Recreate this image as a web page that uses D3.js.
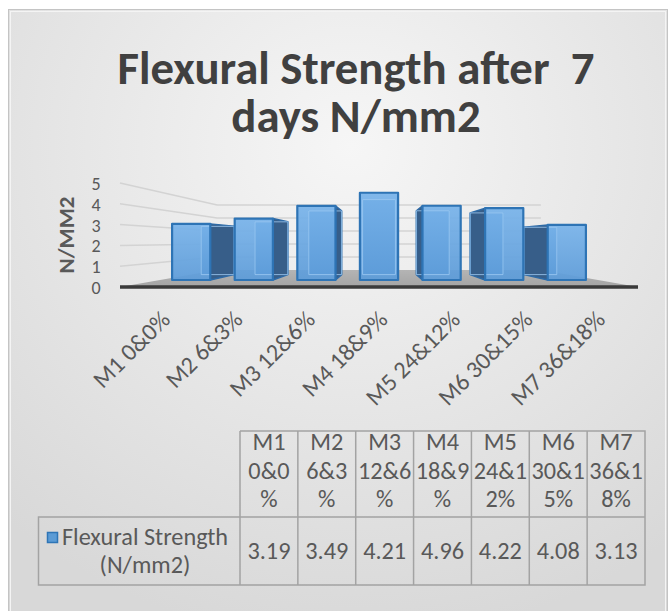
<!DOCTYPE html>
<html>
<head>
<meta charset="utf-8">
<script src="https://cdn.jsdelivr.net/npm/d3@7"></script>
<style>
  html, body { margin: 0; padding: 0; background: #fff; }
  svg { display: block; font-family: Carlito, Calibri, Lato, sans-serif; }
</style>
</head>
<body>
<div id="chart"></div>
<script>
const titleLines  = ["Flexural Strength after  7", "days N/mm2"];
const categories  = ["M1 0&0%", "M2 6&3%", "M3 12&6%", "M4 18&9%", "M5 24&12%", "M6 30&15%", "M7 36&18%"];
const headerLines = [["M1", "0&0", "%"], ["M2", "6&3", "%"], ["M3", "12&6", "%"], ["M4", "18&9", "%"],
                     ["M5", "24&1", "2%"], ["M6", "30&1", "5%"], ["M7", "36&1", "8%"]];
const values      = [3.19, 3.49, 4.21, 4.96, 4.22, 4.08, 3.13];
const seriesLines = ["Flexural Strength", "(N/mm2)"];
const yTicks      = [0, 1, 2, 3, 4, 5];
const yTitle      = "N/MM2";

const W = 671, H = 611;
const svg = d3.select("#chart").append("svg")
  .attr("width", W).attr("height", H)
  .attr("xmlns", "http://www.w3.org/2000/svg");

const defs = svg.append("defs");
const bg = defs.append("radialGradient").attr("id", "bg")
  .attr("cx", "52%").attr("cy", "22%").attr("r", "80%");
bg.append("stop").attr("offset", "0%").attr("stop-color", "#f6f6f6");
bg.append("stop").attr("offset", "100%").attr("stop-color", "#d8d8d8");
const front = defs.append("linearGradient").attr("id", "front")
  .attr("x1", 0).attr("y1", 0).attr("x2", 0).attr("y2", 1);
front.append("stop").attr("offset", "0%").attr("stop-color", "#78b3ea");
front.append("stop").attr("offset", "100%").attr("stop-color", "#5d9cd9");
const floorG = defs.append("linearGradient").attr("id", "floor")
  .attr("x1", 0).attr("y1", 0).attr("x2", 0).attr("y2", 1);
floorG.append("stop").attr("offset", "0%").attr("stop-color", "#b4b4b4");
floorG.append("stop").attr("offset", "100%").attr("stop-color", "#a4a4a4");

// chart area
svg.append("rect").attr("x", 8.5).attr("y", 9.5).attr("width", 659).attr("height", 620)
  .attr("fill", "url(#bg)").attr("stroke", "#c4c4c4");
svg.append("rect").attr("x", 10.5).attr("y", 11.5).attr("width", 655).attr("height", 620)
  .attr("fill", "none").attr("stroke", "#f4f4f4");

// font calibration (Calibri metrics emulated)
function fit(text, weight, target) {
  const t = svg.append("text").attr("font-size", 40).attr("font-weight", weight)
    .style("white-space", "pre").text(text);
  const w = t.node().getComputedTextLength();
  t.remove();
  return 40 * target / w;
}
const titleSize = fit(titleLines[0], "bold", 477);
const bodySize  = fit("3.19", "normal", 43);
const tickSize  = 18;
const axisTitleSize = fit(yTitle, "bold", 77);

// title
svg.append("g").selectAll("text").data(titleLines).join("text")
  .attr("x", 356).attr("y", (d, i) => 84 + i * 48)
  .attr("text-anchor", "middle")
  .attr("font-size", titleSize).attr("font-weight", "bold")
  .attr("fill", "#404040").style("white-space", "pre")
  .text(d => d);

// 3D projection
const x = d3.scaleBand().domain(categories).range([120, 638]);
const y = d3.scaleLinear().domain([0, 5]).range([287, 183]);
const vx = (120 + 638) / 2, vy = 241.6;
const kWall = 0.625, kBarF = 0.846, kBarB = 0.727, kLabel = 0.98;
const proj = (px, py, k) => [vx + (px - vx) * k, vy + (py - vy) * k];
const poly = pts => "M" + pts.map(p => p.join(",")).join("L") + "Z";

const plot = svg.append("g");
const x0 = x.range()[0], x1 = x.range()[1];

// floor
plot.append("path")
  .attr("d", poly([proj(x0, y(0), 1), proj(x1, y(0), 1), proj(x1, y(0), kWall), proj(x0, y(0), kWall)]))
  .attr("fill", "url(#floor)");

// gridlines on side and back wall
plot.append("g").selectAll("path").data(yTicks.filter(v => v > 0)).join("path")
  .attr("d", v => "M" + proj(x0, y(v), 1) + "L" + proj(x0, y(v), kWall) + "L" + proj(x1, y(v), kWall))
  .attr("fill", "none").attr("stroke", "#d3d3d3").attr("stroke-width", 1.5);

// bars, outer ones first
const bw = x.bandwidth() * 0.61;
const bars = categories.map((c, i) => ({ c, v: values[i], cx: x(c) + x.bandwidth() / 2 }))
  .sort((a, b) => Math.abs(b.cx - vx) - Math.abs(a.cx - vx));

const barG = plot.append("g").selectAll("g").data(bars).join("g");
barG.each(function(d) {
  const g = d3.select(this);
  const xl = d.cx - bw / 2, xr = d.cx + bw / 2;
  const yb = y(0), yt = y(d.v);
  const side = d.cx < vx - 1 ? xr : (d.cx > vx + 1 ? xl : null);
  // back face edges
  g.append("path")
    .attr("d", poly([proj(xl, yt, kBarB), proj(xr, yt, kBarB), proj(xr, yb, kBarB), proj(xl, yb, kBarB)]))
    .attr("fill", "#4f8fcf").attr("stroke", "#2e75b6").attr("stroke-width", 1);
  if (side !== null) {
    g.append("path")
      .attr("d", poly([proj(side, yt, kBarF), proj(side, yt, kBarB), proj(side, yb, kBarB), proj(side, yb, kBarF)]))
      .attr("fill", "#375e89").attr("stroke", "#2e6aa6").attr("stroke-width", 1.5)
      .attr("stroke-linejoin", "round");
  }
  g.append("path")
    .attr("d", poly([proj(xl, yt, kBarF), proj(xr, yt, kBarF), proj(xr, yb, kBarF), proj(xl, yb, kBarF)]))
    .attr("fill", "url(#front)").attr("fill-opacity", 0.93);
  // glass: back edges showing through
  g.append("path")
    .attr("d", poly([proj(xl, yt, kBarB), proj(xr, yt, kBarB), proj(xr, yb, kBarB), proj(xl, yb, kBarB)]))
    .attr("fill", "none").attr("stroke", "#9fcaf2").attr("stroke-width", 1).attr("opacity", 0.8);
  g.append("path")
    .attr("d", poly([proj(xl, yt, kBarF), proj(xr, yt, kBarF), proj(xr, yb, kBarF), proj(xl, yb, kBarF)]))
    .attr("fill", "none").attr("stroke", "#2e74b5").attr("stroke-width", 2.2)
    .attr("stroke-linejoin", "round");
});

// front axis line
plot.append("line")
  .attr("x1", x0).attr("x2", x1).attr("y1", y(0)).attr("y2", y(0))
  .attr("stroke", "#3a3a3a").attr("stroke-width", 3.5);

// y ticks
svg.append("g").selectAll("text").data(yTicks).join("text")
  .attr("x", 96).attr("y", v => y(v) + 1)
  .attr("text-anchor", "middle").attr("dominant-baseline", "central")
  .attr("font-size", tickSize).attr("fill", "#595959")
  .text(v => v);

svg.append("text")
  .attr("transform", "translate(66,235) rotate(-90)")
  .attr("text-anchor", "middle").attr("dominant-baseline", "central")
  .attr("font-size", axisTitleSize).attr("font-weight", "bold").attr("fill", "#595959")
  .text(yTitle);

// category labels
svg.append("g").selectAll("text").data(categories).join("text")
  .attr("transform", c => {
    const p = proj(x(c) + x.bandwidth() / 2, y(0), kLabel);
    return `translate(${p[0] + 10},321) rotate(-45)`;
  })
  .attr("text-anchor", "end")
  .attr("font-size", bodySize).attr("fill", "#595959")
  .text(c => c);

// data table
const col = d3.scaleBand().domain(categories).range([240, 645]);
const rowTop = 431, rowMid = 517, rowBot = 585, tableLeft = 38.5;
const tbl = svg.append("g").attr("stroke", "#a3a3a3").attr("stroke-width", 1.5).attr("fill", "none");
tbl.append("path").attr("d",
  `M${col.range()[0]},${rowTop}H${col.range()[1]}V${rowBot}H${tableLeft}V${rowMid}H${col.range()[1]}` +
  `M${col.range()[0]},${rowTop}V${rowBot}`);
tbl.selectAll("line").data(categories.slice(1)).join("line")
  .attr("x1", c => col(c)).attr("x2", c => col(c)).attr("y1", rowTop).attr("y2", rowBot);

const hdr = svg.append("g").attr("font-size", bodySize).attr("fill", "#595959").attr("text-anchor", "middle");
categories.forEach((c, i) => {
  hdr.selectAll(null).data(headerLines[i]).join("text")
    .attr("x", col(c) + col.bandwidth() / 2)
    .attr("y", (d, j) => 442 + j * 28.5)
    .attr("dominant-baseline", "central")
    .text(d => d);
});
svg.append("g").selectAll("text").data(values).join("text")
  .attr("x", (v, i) => col(categories[i]) + col.bandwidth() / 2)
  .attr("y", 551).attr("dominant-baseline", "central").attr("text-anchor", "middle")
  .attr("font-size", bodySize).attr("fill", "#595959")
  .text(v => v.toFixed(2));

svg.append("rect").attr("x", 47.5).attr("y", 532.5).attr("width", 10).attr("height", 10)
  .attr("fill", "#5b9bd5").attr("stroke", "#2e75b6").attr("stroke-width", 1.5);
svg.append("g").selectAll("text").data(seriesLines).join("text")
  .attr("x", 145).attr("y", (d, i) => 537 + i * 28)
  .attr("dominant-baseline", "central").attr("text-anchor", "middle")
  .attr("font-size", bodySize).attr("fill", "#595959")
  .text(d => d);
</script>
</body>
</html>
